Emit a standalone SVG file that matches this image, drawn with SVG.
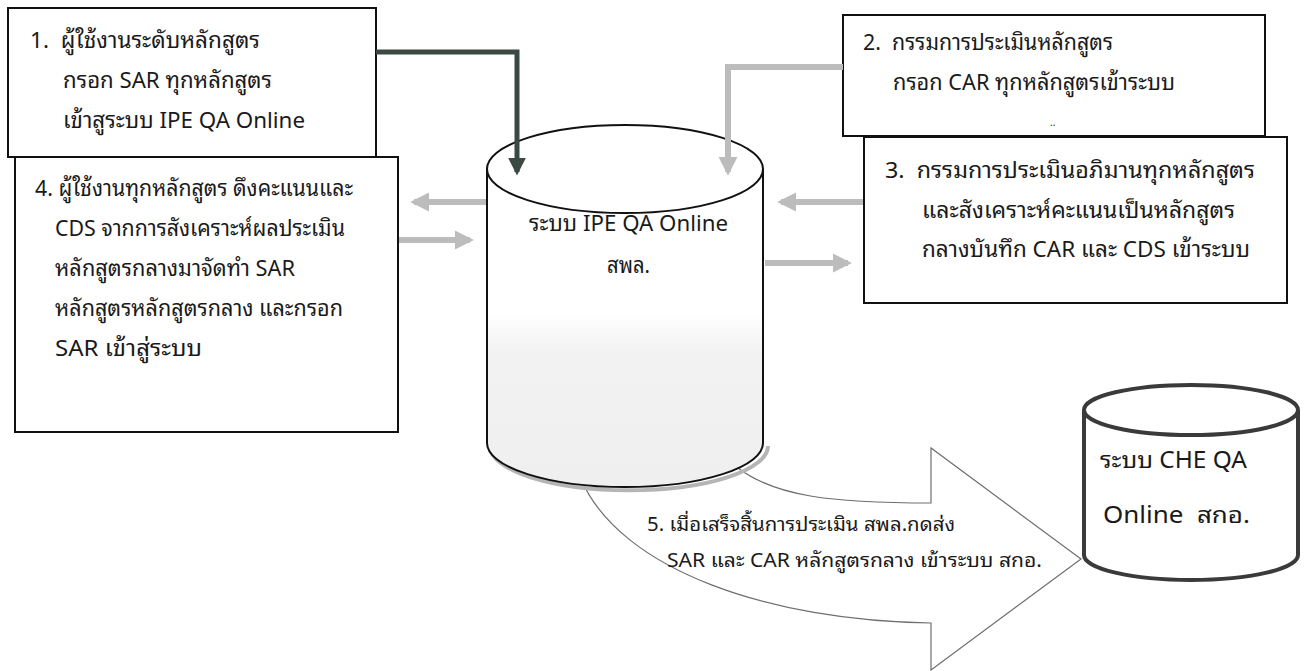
<svg xmlns="http://www.w3.org/2000/svg" width="1315" height="671" viewBox="0 0 1315 671">
<style>
text{font-family:Tahoma,"Noto Sans Thai Looped",Loma,Waree,Garuda,"Noto Sans Thai","Noto Sans",sans-serif;fill:#1a1a1a;}
.t{font-size:22px;}
.s{font-size:19px;}
.c{font-size:23px;}
.box{fill:#fff;stroke:#111;stroke-width:2;}
.cyl{fill:#fff;stroke:#111;stroke-width:2;}
.gray{fill:none;stroke:#bcbcbc;stroke-width:6;}
.dark{fill:none;stroke:#3b4943;stroke-width:5;}
</style>
<defs>
<marker id="ag" viewBox="0 0 10 10" refX="8" refY="5" markerWidth="3.2" markerHeight="3.2" orient="auto" markerUnits="strokeWidth"><path d="M0,0 L10,5 L0,10 Z" fill="#bcbcbc"/></marker>
<marker id="ad" viewBox="0 0 10 10" refX="8" refY="5" markerWidth="3.6" markerHeight="3.6" orient="auto" markerUnits="strokeWidth"><path d="M0,0 L10,5 L0,10 Z" fill="#3b4943"/></marker>
<linearGradient id="cg" gradientUnits="userSpaceOnUse" x1="0" y1="169" x2="0" y2="487"><stop offset="0" stop-color="#fff"/><stop offset="0.45" stop-color="#fff"/><stop offset="0.58" stop-color="#f2f2f2"/><stop offset="1" stop-color="#efefef"/></linearGradient>
</defs>
<rect width="1315" height="671" fill="#fff"/>

<g id="arrow5">
<path d="M738,468 C775,496 830,503 931,503 L931,448 L1081,559 L931,670 L931,623 C770,621 620,570 581,479" fill="#fff" stroke="#6e6e6e" stroke-width="1.2"/>
<text class="s" x="647" y="531" textLength="308" lengthAdjust="spacingAndGlyphs">5. เมื่อเสร็จสิ้นการประเมิน สพล.กดส่ง</text>
<text class="s" x="667" y="567" textLength="375" lengthAdjust="spacingAndGlyphs">SAR และ CAR หลักสูตรกลาง เข้าระบบ สกอ.</text>
</g>

<g id="node-ipe">
<path d="M490,446 A138,44 0 0 0 768,446" fill="none" stroke="#b5b5b5" stroke-width="4"/>
<path d="M487,169 L487,443 A138,44 0 0 0 763,443 L763,169" fill="url(#cg)" stroke="#111" stroke-width="2"/>
<ellipse cx="625" cy="169" rx="138" ry="44" class="cyl"/>
<text class="t" x="529" y="231" textLength="199" lengthAdjust="spacingAndGlyphs">ระบบ IPE QA Online</text>
<text class="t" x="607" y="273" textLength="43" lengthAdjust="spacingAndGlyphs">สพล.</text>
</g>

<g id="node-che">
<path d="M1084,410 L1084,555 A107,25 0 0 0 1298,555 L1298,410" fill="#fff" stroke="#3a3a3a" stroke-width="4"/>
<ellipse cx="1191" cy="410" rx="107" ry="25" fill="#fff" stroke="#3a3a3a" stroke-width="4"/>
<text class="c" x="1100" y="468" textLength="147" lengthAdjust="spacingAndGlyphs">ระบบ CHE QA</text>
<text class="c" x="1103" y="523" textLength="147" lengthAdjust="spacingAndGlyphs">Online&#160;&#160;สกอ.</text>
</g>

<g id="node-1">
<rect x="8" y="8" width="368" height="149" class="box"/>
<text class="t" x="30" y="48" textLength="230" lengthAdjust="spacingAndGlyphs">1.&#160;&#160;ผู้ใช้งานระดับหลักสูตร</text>
<text class="t" x="63" y="88" textLength="209" lengthAdjust="spacingAndGlyphs">กรอก SAR ทุกหลักสูตร</text>
<text class="t" x="63" y="128" textLength="242" lengthAdjust="spacingAndGlyphs">เข้าสูระบบ IPE QA Online</text>
</g>

<g id="node-4">
<rect x="15" y="157" width="383" height="275" class="box"/>
<text class="t" x="35" y="196" textLength="318" lengthAdjust="spacingAndGlyphs">4. ผู้ใช้งานทุกหลักสูตร ดึงคะแนนและ</text>
<text class="t" x="55" y="236" textLength="290" lengthAdjust="spacingAndGlyphs">CDS จากการสังเคราะห์ผลประเมิน</text>
<text class="t" x="55" y="276" textLength="240" lengthAdjust="spacingAndGlyphs">หลักสูตรกลางมาจัดทำ SAR</text>
<text class="t" x="55" y="316" textLength="288" lengthAdjust="spacingAndGlyphs">หลักสูตรหลักสูตรกลาง และกรอก</text>
<text class="t" x="55" y="356" textLength="147" lengthAdjust="spacingAndGlyphs">SAR เข้าสู่ระบบ</text>
</g>

<g id="node-2">
<rect x="843" y="15" width="422" height="121" class="box"/>
<text class="t" x="863" y="50" textLength="250" lengthAdjust="spacingAndGlyphs">2.&#160;&#160;กรรมการประเมินหลักสูตร</text>
<text class="t" x="893" y="90" textLength="282" lengthAdjust="spacingAndGlyphs">กรอก CAR ทุกหลักสูตรเข้าระบบ</text>
<text x="1050" y="126" style="font-size:10px">..</text>
</g>

<g id="node-3">
<rect x="864" y="137" width="423" height="166" class="box"/>
<text class="t" x="885" y="178" textLength="370" lengthAdjust="spacingAndGlyphs">3.&#160;&#160;กรรมการประเมินอภิมานทุกหลักสูตร</text>
<text class="t" x="922" y="218" textLength="313" lengthAdjust="spacingAndGlyphs">และสังเคราะห์คะแนนเป็นหลักสูตร</text>
<text class="t" x="922" y="257" textLength="328" lengthAdjust="spacingAndGlyphs">กลางบันทึก CAR และ CDS เข้าระบบ</text>
</g>

<g id="connectors">
<path class="dark" d="M376,52 L517,52 L517,172" marker-end="url(#ad)"/>
<path class="gray" d="M843,67 L728,67 L728,172" marker-end="url(#ag)"/>
<path class="gray" d="M486,202 L414,202" marker-end="url(#ag)"/>
<path class="gray" d="M399,240 L470,240" marker-end="url(#ag)"/>
<path class="gray" d="M863,202 L781,202" marker-end="url(#ag)"/>
<path class="gray" d="M765,263 L848,263" marker-end="url(#ag)"/>
</g>
</svg>
